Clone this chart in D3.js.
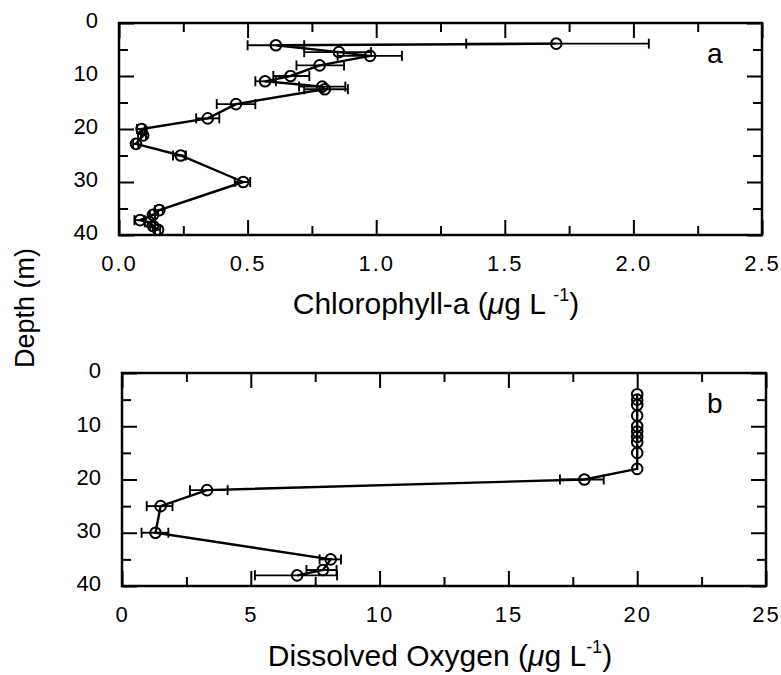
<!DOCTYPE html>
<html><head><meta charset="utf-8">
<script src="https://cdn.jsdelivr.net/npm/d3@7"></script>
<style>
body{margin:0;background:#fff}
text{font-family:"Liberation Sans",Arial,Helvetica,sans-serif;fill:#000}
</style>
</head><body>
<svg id="chart" width="781" height="675"></svg>
<script>
// ---- Panel a: Chlorophyll-a ----
const chlDepth = [3.9, 4.2, 5.5, 6.2, 8, 10, 11, 12, 12.5, 15.3, 18, 20, 21.2, 22.8, 25, 30, 35.3, 36.2, 37.2, 37.6, 38.3, 39];
const chlValue = [1.70, 0.61, 0.855, 0.976, 0.78, 0.667, 0.568, 0.79, 0.80, 0.455, 0.345, 0.088, 0.094, 0.066, 0.24, 0.483, 0.157, 0.132, 0.082, 0.12, 0.132, 0.152];
const chlLow   = [1.35, 0.50, 0.72, 0.85, 0.69, 0.60, 0.53, 0.70, 0.72, 0.38, 0.30, 0.07, 0.085, 0.055, 0.21, 0.45, 0.14, 0.12, 0.06, 0.10, 0.12, 0.14];
const chlHigh  = [2.06, 0.72, 0.98, 1.10, 0.875, 0.74, 0.61, 0.88, 0.89, 0.53, 0.39, 0.10, 0.105, 0.075, 0.26, 0.51, 0.17, 0.14, 0.10, 0.14, 0.14, 0.16];

// ---- Panel b: Dissolved Oxygen ----
const doDepth = [4, 5, 6, 8, 10, 11, 12, 13, 15, 18, 20, 22, 25, 30, 35, 37, 38];
const doValue = [20, 20, 20, 20, 20, 20, 20, 20, 20, 20, 17.95, 3.3, 1.5, 1.3, 8.1, 7.8, 6.8];
const doLow   = [20, 20, 20, 20, 20, 20, 20, 20, 20, 20, 17.0, 2.64, 0.96, 0.76, 7.67, 7.16, 5.16];
const doHigh  = [20, 20, 20, 20, 20, 20, 20, 20, 20, 20, 18.7, 4.1, 1.96, 1.8, 8.5, 8.33, 8.35];

// ---- Ticks ----
const depthTicks = [0, 10, 20, 30, 40];
const depthMinor = [5, 15, 25, 35];
const chlTicks = [0, 0.5, 1.0, 1.5, 2.0, 2.5];
const chlMinor = [0.25, 0.75, 1.25, 1.75, 2.25];
const doTicks = [0, 5, 10, 15, 20, 25];
const doMinor = [2.5, 7.5, 12.5, 17.5, 22.5];

const svg = d3.select("#chart");

function panel(cfg) {
  const x = d3.scaleLinear().domain(cfg.xDomain).range([cfg.left, cfg.right]);
  const y = d3.scaleLinear().domain([0, 40]).range([cfg.top, cfg.bottom]);
  const g = svg.append("g");
  const major = 15, minor = 9;

  function addAxis(axisFn, scale, ticks, minors, transform, labels, fmt, pad, spacing, dy) {
    const ax = axisFn(scale).tickValues(ticks).tickSizeInner(-major).tickSizeOuter(0)
      .tickPadding(pad).tickFormat(labels ? fmt : () => "");
    const ag = g.append("g").attr("transform", transform).call(ax);
    ag.select(".domain").remove();
    ag.selectAll("line").attr("stroke", "#000").attr("stroke-width", 2);
    ag.selectAll("text").attr("font-size", 22).attr("letter-spacing", spacing || 0)
      .attr("font-family", '"Liberation Sans",Arial,sans-serif');
    if (dy) ag.selectAll("text").attr("dy", dy);
    const mx = axisFn(scale).tickValues(minors).tickSizeInner(-minor).tickSizeOuter(0).tickFormat(() => "");
    const mg = g.append("g").attr("transform", transform).call(mx);
    mg.select(".domain").remove();
    mg.selectAll("line").attr("stroke", "#000").attr("stroke-width", 2);
  }
  addAxis(d3.axisBottom, x, cfg.xTicks, cfg.xMinor, `translate(0,${cfg.bottom})`, true, cfg.xFmt, 20, 2);
  addAxis(d3.axisTop, x, cfg.xTicks, cfg.xMinor, `translate(0,${cfg.top})`, false, cfg.xFmt, 0);
  addAxis(d3.axisLeft, y, depthTicks, depthMinor, `translate(${cfg.left},0)`, true, d3.format("d"), 21, 0, "0.22em");
  addAxis(d3.axisRight, y, depthTicks, depthMinor, `translate(${cfg.right},0)`, false, d3.format("d"), 0);

  g.append("rect").attr("x", cfg.left).attr("y", cfg.top)
    .attr("width", cfg.right - cfg.left).attr("height", cfg.bottom - cfg.top)
    .attr("fill", "none").attr("stroke", "#000").attr("stroke-width", 2.5);

  const data = cfg.depth.map((d, i) => ({d, v: cfg.value[i], lo: cfg.low[i], hi: cfg.high[i]}));
  const cap = 5;
  const eb = g.append("g").attr("stroke", "#000").attr("stroke-width", 1.9);
  data.filter(p => p.hi > p.lo).forEach(p => {
    eb.append("line").attr("x1", x(p.lo)).attr("x2", x(p.hi)).attr("y1", y(p.d)).attr("y2", y(p.d));
    eb.append("line").attr("x1", x(p.lo)).attr("x2", x(p.lo)).attr("y1", y(p.d) - cap).attr("y2", y(p.d) + cap);
    eb.append("line").attr("x1", x(p.hi)).attr("x2", x(p.hi)).attr("y1", y(p.d) - cap).attr("y2", y(p.d) + cap);
  });
  g.append("path").datum(data)
    .attr("d", d3.line().x(p => x(p.v)).y(p => y(p.d)))
    .attr("fill", "none").attr("stroke", "#000").attr("stroke-width", 2.4);
  g.selectAll("circle.pt").data(data).enter().append("circle")
    .attr("cx", p => x(p.v)).attr("cy", p => y(p.d)).attr("r", 5.3)
    .attr("fill", "none").attr("stroke", "#000").attr("stroke-width", 2);

  g.append("text").attr("x", cfg.letterX).attr("y", cfg.top + 40)
    .attr("font-size", 28).text(cfg.letter);

  const t = g.append("text").attr("x", cfg.titleX).attr("y", cfg.titleY)
    .attr("text-anchor", "middle").attr("font-size", 30);
  t.append("tspan").text(cfg.titleMain + " (");
  t.append("tspan").attr("font-style", "italic").text("\u03bc");
  t.append("tspan").text(cfg.spaceBeforeSup ? "g L " : "g L");
  t.append("tspan").attr("font-size", 18).attr("dy", -13).text("-1");
  t.append("tspan").attr("dy", 13).text(")");
}

panel({left: 119, right: 762, top: 23, bottom: 235, xDomain: [0, 2.5],
  xTicks: chlTicks, xMinor: chlMinor, xFmt: d3.format(".1f"),
  depth: chlDepth, value: chlValue, low: chlLow, high: chlHigh,
  letter: "a", letterX: 707, titleMain: "Chlorophyll-a", spaceBeforeSup: true,
  titleX: 436, titleY: 314});

panel({left: 122, right: 766, top: 373, bottom: 586, xDomain: [0, 25],
  xTicks: doTicks, xMinor: doMinor, xFmt: d3.format("d"),
  depth: doDepth, value: doValue, low: doLow, high: doHigh,
  letter: "b", letterX: 707, titleMain: "Dissolved Oxygen", spaceBeforeSup: false,
  titleX: 440, titleY: 666});

svg.append("text").attr("transform", "translate(34,308) rotate(-90)")
  .attr("text-anchor", "middle").attr("font-size", 27).text("Depth (m)");
</script>
</body></html>
